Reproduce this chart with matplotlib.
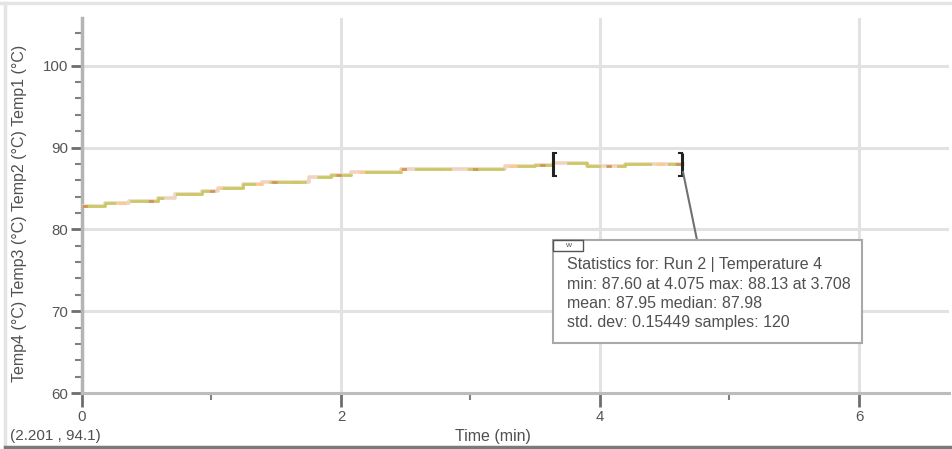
import matplotlib.pyplot as plt
from matplotlib.patches import Rectangle
from matplotlib.lines import Line2D
from matplotlib.ticker import MultipleLocator

plt.rcParams['font.family'] = ['Liberation Sans', 'DejaVu Sans']

# step changes of the logged temperature (time in min, temp in degC)
step_time = [0.00, 0.18, 0.36, 0.59, 0.72, 0.93, 1.05, 1.24, 1.39, 1.75,
             1.92, 2.08, 2.46, 3.27, 3.50, 3.64, 3.90, 4.19, 4.64]
step_temp = [82.8, 83.2, 83.5, 83.85, 84.3, 84.7, 85.0, 85.5, 85.85, 86.45,
             86.7, 87.0, 87.4, 87.8, 87.9, 88.15, 87.75, 88.05, 88.05]

# selected range for the statistics box
stat_start = 3.64
stat_end = 4.63
stat_lines = [
    "Statistics for: Run 2 | Temperature 4",
    "min: 87.60 at 4.075 max: 88.13 at 3.708",
    "mean: 87.95 median: 87.98",
    "std. dev: 0.15449 samples: 120",
]
cursor_text = "(2.201 , 94.1)"

W, H = 953, 449
fig = plt.figure(figsize=(W / 100, H / 100), dpi=100)
ax = fig.add_axes([82 / W, 1 - 393 / H, (949 - 82) / W, (393 - 18) / H])

# four temperature channels sit on top of each other
ax.step(step_time, step_temp, where='post', color='#f0d4c2', lw=2.6, zorder=3)
ax.step(step_time, step_temp, where='post', color='#ffc890', lw=2.0,
        dashes=(3, 11), zorder=4)
ax.step(step_time, step_temp, where='post', color='#c8c864', lw=1.9,
        dashes=(14, 6), zorder=5)
ax.step(step_time, step_temp, where='post', color='#d0935a', lw=1.9,
        dashes=(2, 25), zorder=6)

ax.set_xlim(0, 6.695)
ax.set_ylim(60, 105.84)

ax.xaxis.set_major_locator(MultipleLocator(2))
ax.xaxis.set_minor_locator(MultipleLocator(1))
ax.yaxis.set_major_locator(MultipleLocator(10))
ax.yaxis.set_minor_locator(MultipleLocator(2))
ax.set_yticks([60, 70, 80, 90, 100])

ax.grid(True, which='major', color='#e2e2e2', lw=2.2)
ax.set_axisbelow(True)

for side in ['top', 'right']:
    ax.spines[side].set_visible(False)
ax.spines['left'].set_color('#b4b4b4')
ax.spines['left'].set_linewidth(2.5)
ax.spines['bottom'].set_color('#bcbcbc')
ax.spines['bottom'].set_linewidth(2.2)

ax.tick_params(axis='both', which='major', colors='#6e6e6e', width=2,
               labelcolor='#555555', labelsize=10.8)
ax.tick_params(axis='y', which='major', length=8, pad=2)
ax.tick_params(axis='x', which='major', length=10, pad=2)
ax.tick_params(axis='both', which='minor', colors='#808080', width=1.5, length=5)

# statistics brackets
ymid = 87.95
for xb, d in [(stat_start, 1), (stat_end, -1)]:
    ax.plot([xb, xb], [ymid - 1.4, ymid + 1.4], color='#222222', lw=2.2,
            zorder=8, solid_capstyle='butt')
    for yy in (ymid - 1.4, ymid + 1.4):
        ax.plot([xb, xb + d * 0.02], [yy, yy], color='#222222', lw=1.5, zorder=8)

# leader from the end bracket to the statistics box
bx0, by0, bx1, by1 = 553, 240, 862, 343
fig.add_artist(Line2D([683 / W, 697 / W], [1 - 172 / H, 1 - by0 / H],
                      color='#707070', lw=1.5))
fig.add_artist(Rectangle((bx0 / W, 1 - by1 / H), (bx1 - bx0) / W, (by1 - by0) / H,
                         facecolor='white', edgecolor='#a8a8a8', lw=1.5, zorder=10))
fig.add_artist(Rectangle((bx0 / W, 1 - 251 / H), 30 / W, 11 / H,
                         facecolor='white', edgecolor='#555555', lw=1.0, zorder=11))
fig.text((bx0 + 15) / W, 1 - 245.5 / H, "w", fontsize=6, color='#555555',
         ha='center', va='center', zorder=12)
for i, line in enumerate(stat_lines):
    fig.text(567 / W, 1 - (265 + 19.3 * i) / H, line, fontsize=11.5,
             color='#505050', va='center', ha='left', zorder=12)

# axis titles and cursor readout
fig.text(20 / W, 1 - 213 / H, "Temp4 (°C) Temp3 (°C) Temp2 (°C) Temp1 (°C)",
         rotation=90, ha='center', va='center', fontsize=11.5, color='#505050')
fig.text(493 / W, 1 - 436 / H, "Time (min)", ha='center', va='center',
         fontsize=11.5, color='#505050')
fig.text(10 / W, 1 - 436 / H, cursor_text, ha='left', va='center',
         fontsize=11, color='#505050')

# window frame
fig.add_artist(Line2D([0, 1], [1 - 3 / H, 1 - 3 / H], color='#e4e4e4', lw=2.5))
fig.add_artist(Line2D([5 / W, 5 / W], [0, 1 - 3 / H], color='#e4e4e4', lw=2.5))
fig.add_artist(Line2D([5 / W, 1], [1 - 447 / H, 1 - 447 / H], color='#7a7a7a', lw=2.5))

fig.savefig('out.png', dpi=100)
